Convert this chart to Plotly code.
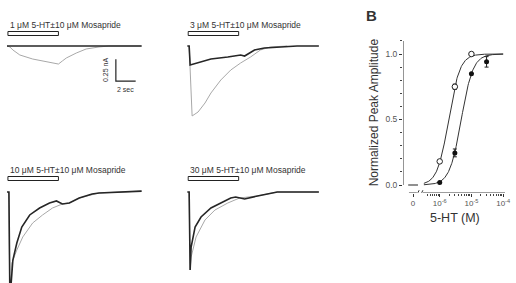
import numpy as np
import plotly.graph_objects as go

W, H = 516, 283

# ---------------- Panel A data (time s from trace start, current nA) -------------
conc_labels = ["1 μM 5-HT±10 μM Mosapride", "3 μM 5-HT±10 μM Mosapride",
               "10 μM 5-HT±10 μM Mosapride", "30 μM 5-HT±10 μM Mosapride"]
app_on, app_off = 0.1, 5.2  # drug application (s)

tl_black_t = [0, 13.6]
tl_black_i = [0, 0]
tl_gray_t = [0, 0.3, 0.6, 1.3, 2.6, 4.0, 5.2, 5.6, 6.0, 7.0, 8.0, 9.3, 10.3, 13.6]
tl_gray_i = [0, -0.011, -0.045, -0.102, -0.148, -0.182, -0.205, -0.17, -0.136, -0.08, -0.034, -0.011, 0, 0]

tr_black_t = [0, 0.2, 0.3, 1.1, 2.4, 4.1, 5.4, 5.8, 6.8, 7.8, 9.1, 11.1, 13.3]
tr_black_i = [0, 0, -0.216, -0.193, -0.148, -0.125, -0.102, -0.114, -0.045, -0.023, -0.011, 0, 0]
tr_gray_t = [0.2, 0.5, 1.1, 1.8, 2.4, 3.4, 4.4, 5.4, 6.4, 7.4, 8.4, 10.1]
tr_gray_i = [0, -0.795, -0.75, -0.648, -0.534, -0.386, -0.273, -0.193, -0.125, -0.045, -0.011, 0]

bl_black_t = [0, 0.2, 0.3, 0.6, 1.0, 1.5, 2.3, 3.3, 4.3, 5.0, 5.6, 6.3, 7.3, 8.6, 9.3, 11.3, 13.6]
bl_black_i = [0, 0, -1.23, -0.773, -0.58, -0.398, -0.261, -0.182, -0.125, -0.102, -0.136, -0.125, -0.068, -0.023, -0.011, 0, 0.01]
bl_gray_t = [0.2, 0.3, 0.5, 1.0, 1.6, 2.6, 3.6, 4.6, 5.6, 6.3, 7.3, 9.3, 13.6]
bl_gray_i = [0, -1.3, -0.807, -0.659, -0.511, -0.352, -0.261, -0.182, -0.136, -0.125, -0.068, -0.011, 0.01]

br_black_t = [0, 0.2, 0.3, 0.4, 0.8, 1.4, 2.4, 3.4, 4.4, 4.9, 5.3, 5.8, 7.1, 9.1, 11.1, 13.3]
br_black_i = [0, 0, -0.886, -0.625, -0.398, -0.284, -0.182, -0.125, -0.068, -0.057, -0.068, -0.08, -0.045, 0, 0, 0]
br_gray_t = [0.2, 0.3, 0.4, 0.9, 1.8, 2.8, 4.1, 5.3, 7.1, 9.1, 13.3]
br_gray_i = [0, -0.886, -0.739, -0.511, -0.318, -0.205, -0.125, -0.068, -0.045, 0, 0]

scale_t, scale_i = 2.0, 0.25  # scale bar: 2 sec, 0.25 nA

# ---------------- Panel B data -------------
open_logc = [-6, np.log10(3e-6), -5]
open_amp = [0.18, 0.75, 1.0]
open_err = [0.0, 0.02, 0.0]
fill_logc = [-6, np.log10(3e-6), -5, np.log10(3e-5)]
fill_amp = [0.02, 0.245, 0.85, 0.94]
fill_err = [0.0, 0.03, 0.0, 0.04]
zero_amp = 0.0
open_ec50, open_nh = 1.91e-6, 2.44
fill_ec50, fill_nh = 4.78e-6, 2.35
xtick_vals = [-6.84, -6, -5, -4]
xtick_text = ["0", "10<sup>-6</sup>", "10<sup>-5</sup>", "10<sup>-4</sup>"]

FONT = "Liberation Sans, Arial, sans-serif"
fig = go.Figure()

def px2x(p): return p / W
def px2y(p): return 1 - p / H

PX_PER_S, PX_PER_NA = 10.0, 88.0
panels = [  # x0 px, base y px, box top px, box bottom px
    (7, 46, 0, 140),
    (189, 46, 0, 140),
    (7, 192, 145, 283),
    (189, 192, 145, 283),
]
data = [(tl_black_t, tl_black_i, tl_gray_t, tl_gray_i),
        (tr_black_t, tr_black_i, tr_gray_t, tr_gray_i),
        (bl_black_t, bl_black_i, bl_gray_t, bl_gray_i),
        (br_black_t, br_black_i, br_gray_t, br_gray_i)]

layout = {}
shapes = []
annotations = []
for k, ((x0, yb, ytop, ybot), (bt, bi, gt, gi)) in enumerate(zip(panels, data), start=1):
    xa = "x" if k == 1 else f"x{k}"
    ya = "y" if k == 1 else f"y{k}"
    width_px = 145
    layout["xaxis" if k == 1 else f"xaxis{k}"] = dict(
        domain=[px2x(x0), px2x(x0 + width_px)], range=[0, width_px / PX_PER_S],
        visible=False, anchor=ya)
    layout["yaxis" if k == 1 else f"yaxis{k}"] = dict(
        domain=[px2y(ybot), px2y(ytop)],
        range=[-(ybot - yb) / PX_PER_NA, (yb - ytop) / PX_PER_NA],
        visible=False, anchor=xa)
    fig.add_trace(go.Scatter(x=gt, y=gi, mode="lines", xaxis=xa, yaxis=ya,
                             line=dict(color="#a8a8a8", width=1), showlegend=False,
                             hoverinfo="skip"))
    fig.add_trace(go.Scatter(x=bt, y=bi, mode="lines", xaxis=xa, yaxis=ya,
                             line=dict(color="#262626", width=1.6), showlegend=False,
                             hoverinfo="skip"))
    bar_y = 33.5 if k <= 2 else 178.5
    shapes.append(dict(type="rect", xref=xa, yref="paper", x0=app_on, x1=app_off,
                       y0=px2y(bar_y + 2), y1=px2y(bar_y - 2),
                       line=dict(color="#222", width=1), fillcolor="white"))
    lab_y = 25 if k <= 2 else 170
    annotations.append(dict(text=conc_labels[k - 1], xref="paper", yref="paper",
                            x=px2x(x0 + 1), y=px2y(lab_y), xanchor="left", yanchor="middle",
                            showarrow=False, font=dict(family=FONT, size=8.5, color="#333")))

# scale bar in top-left panel
sb_t0, sb_i0 = 11.0, -0.4
fig.add_trace(go.Scatter(x=[sb_t0, sb_t0, sb_t0 + scale_t], y=[sb_i0 + scale_i, sb_i0, sb_i0],
                         mode="lines", xaxis="x", yaxis="y", line=dict(color="#222", width=1.2),
                         showlegend=False, hoverinfo="skip"))
annotations.append(dict(text="0.25 nA", xref="paper", yref="paper", x=px2x(106), y=px2y(70),
                        textangle=-90, showarrow=False, xanchor="center", yanchor="middle",
                        font=dict(family=FONT, size=7, color="#333")))
annotations.append(dict(text="2 sec", xref="paper", yref="paper", x=px2x(127), y=px2y(89),
                        showarrow=False, xanchor="center", yanchor="middle",
                        font=dict(family=FONT, size=7, color="#333")))

# ---------------- Panel B -------------
xr = [-7.156, -3.94]
yr = [-0.06, 1.1]
ytop_px = 54 - 0.1 * 131
ybot_px = 185 + 0.06 * 131
layout["xaxis5"] = dict(domain=[px2x(407), px2x(510)], range=xr, anchor="y5",
                        showline=False, showgrid=False, zeroline=False,
                        tickmode="array", tickvals=xtick_vals, ticktext=xtick_text,
                        ticks="outside", ticklen=3, tickcolor="#333", tickwidth=1,
                        tickfont=dict(family=FONT, size=8, color="#555"),
                        minor=dict(tickmode="array",
                                   tickvals=[np.log10(m) + d for d in (-7, -6, -5) for m in range(2, 10)
                                             if -6.5 < np.log10(m) + d < -4],
                                   ticks="outside", ticklen=2, tickcolor="#444"))
layout["yaxis5"] = dict(domain=[px2y(ybot_px), px2y(ytop_px)], range=yr, anchor="x5",
                        showline=False, showgrid=False, zeroline=False,
                        tickvals=[0, 0.5, 1.0], ticktext=["0.0", "0.5", "1.0"],
                        ticks="outside", ticklen=3, tickcolor="#333",
                        tickfont=dict(family=FONT, size=8.5, color="#555"),
                        minor=dict(dtick=0.1, tick0=0, ticks="outside", ticklen=2, tickcolor="#444"))

# axis lines
shapes.append(dict(type="line", xref="x5", yref="y5", x0=xr[0], x1=xr[0], y0=0, y1=1.1,
                   line=dict(color="#333", width=1)))
shapes.append(dict(type="line", xref="x5", yref="y5", x0=-6.97, x1=-6.72, y0=yr[0], y1=yr[0],
                   line=dict(color="#333", width=1)))
shapes.append(dict(type="line", xref="x5", yref="y5", x0=-6.53, x1=-3.94, y0=yr[0], y1=yr[0],
                   line=dict(color="#333", width=1)))
for bx in (-6.69, -6.57):
    shapes.append(dict(type="line", xref="x5", yref="y5", x0=bx - 0.04, x1=bx + 0.04,
                       y0=yr[0] - 0.02, y1=yr[0] + 0.02, line=dict(color="#333", width=1)))

xs = np.linspace(-6.5, -4.0, 200)
c = 10 ** xs
open_fit = c ** open_nh / (c ** open_nh + open_ec50 ** open_nh)
fill_fit = c ** fill_nh / (c ** fill_nh + fill_ec50 ** fill_nh)
for yfit in (open_fit, fill_fit):
    fig.add_trace(go.Scatter(x=xs, y=yfit, mode="lines", xaxis="x5", yaxis="y5",
                             line=dict(color="#333", width=1), showlegend=False, hoverinfo="skip"))

fig.add_trace(go.Scatter(x=fill_logc, y=fill_amp, mode="markers", xaxis="x5", yaxis="y5",
                         error_y=dict(type="data", array=fill_err, color="#222", thickness=1, width=2),
                         marker=dict(color="#111", size=5), showlegend=False, hoverinfo="skip"))
fig.add_trace(go.Scatter(x=open_logc, y=open_amp, mode="markers", xaxis="x5", yaxis="y5",
                         error_y=dict(type="data", array=open_err, color="#222", thickness=1, width=2),
                         marker=dict(color="white", size=5.5, line=dict(color="#222", width=1)),
                         showlegend=False, hoverinfo="skip"))
fig.add_trace(go.Scatter(x=[xtick_vals[0]], y=[zero_amp], mode="markers", xaxis="x5", yaxis="y5",
                         marker=dict(symbol="line-ew", size=7, line=dict(color="#222", width=1.2)),
                         showlegend=False, hoverinfo="skip"))

annotations.append(dict(text="Normalized Peak Amplitude", xref="paper", yref="paper",
                        x=px2x(378), y=px2y(112), textangle=-90, showarrow=False,
                        xanchor="center", yanchor="middle",
                        font=dict(family=FONT, size=12, color="#333")))
annotations.append(dict(text="5-HT (M)", xref="paper", yref="paper", x=px2x(459), y=px2y(218),
                        showarrow=False, xanchor="center", yanchor="middle",
                        font=dict(family=FONT, size=12.5, color="#333")))
annotations.append(dict(text="<b>B</b>", xref="paper", yref="paper", x=px2x(375), y=px2y(16),
                        showarrow=False, xanchor="center", yanchor="middle",
                        font=dict(family=FONT, size=15, color="#333")))

fig.update_layout(width=W, height=H, margin=dict(l=0, r=0, t=0, b=0),
                  paper_bgcolor="white", plot_bgcolor="white",
                  shapes=shapes, annotations=annotations, **layout)
fig.write_html("out.html", config={"displayModeBar": False})
